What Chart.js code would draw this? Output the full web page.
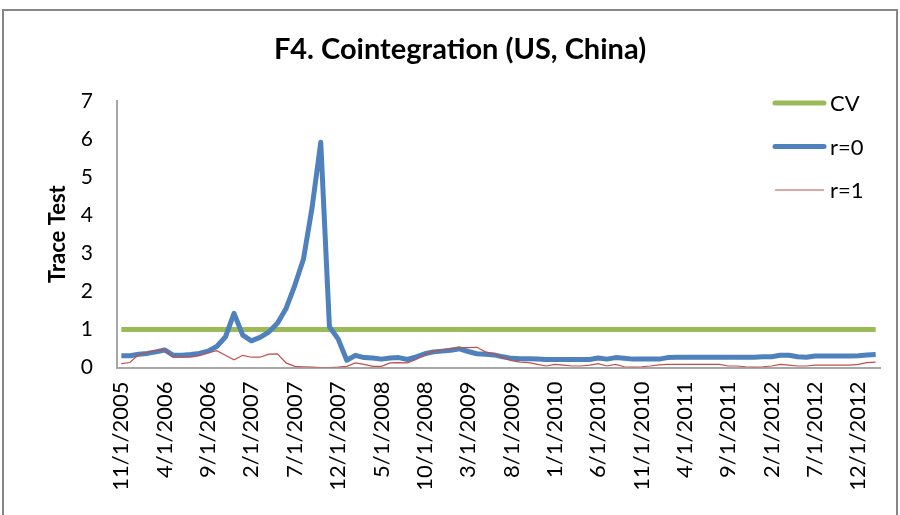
<!DOCTYPE html>
<html>
<head>
<meta charset="utf-8">
<script src="https://cdn.jsdelivr.net/npm/chart.js@4.4.1/dist/chart.umd.min.js"></script>
<style>
    body { margin: 0; background: #ffffff; }
    #chart_box { width: 900px; height: 515px; position: relative; }
</style>
</head>
<body>
<div id="chart_box"><canvas id="cointegration_chart"></canvas></div>
<script>
// monthly categories, 11/1/2005 .. 2/1/2013
const start_month = 11;
const start_year = 2005;
const month_count = 88;
const month_labels = [];
for (let i = 0; i < month_count; i++) {
    const m = (start_month - 1 + i) % 12 + 1;
    const y = start_year + Math.floor((start_month - 1 + i) / 12);
    month_labels.push(m + '/1/' + y);
}

const cv_level = 1;
const cv_values = new Array(month_count).fill(cv_level);

const r0_values = [
    0.31, 0.31, 0.35, 0.37, 0.41, 0.46, 0.32, 0.32, 0.34, 0.37,
    0.43, 0.55, 0.80, 1.42, 0.85, 0.70, 0.79, 0.93, 1.16, 1.55,
    2.15, 2.84, 4.20, 5.91, 1.07, 0.75, 0.19, 0.32, 0.26, 0.25,
    0.22, 0.25, 0.26, 0.21, 0.28, 0.36, 0.41, 0.43, 0.45, 0.49,
    0.42, 0.36, 0.35, 0.33, 0.28, 0.24, 0.23, 0.23, 0.22, 0.21,
    0.21, 0.21, 0.21, 0.21, 0.21, 0.25, 0.22, 0.26, 0.24, 0.22,
    0.22, 0.22, 0.22, 0.26, 0.27, 0.27, 0.27, 0.27, 0.27, 0.27,
    0.27, 0.27, 0.27, 0.27, 0.28, 0.28, 0.32, 0.32, 0.28, 0.27,
    0.30, 0.30, 0.30, 0.30, 0.30, 0.31, 0.33, 0.34
];

const r1_values = [
    0.10, 0.13, 0.34, 0.40, 0.45, 0.46, 0.27, 0.27, 0.27, 0.31,
    0.38, 0.44, 0.32, 0.20, 0.32, 0.27, 0.27, 0.35, 0.36, 0.12,
    0.03, 0.02, 0.01, 0.00, 0.00, 0.01, 0.03, 0.12, 0.08, 0.03,
    0.03, 0.12, 0.13, 0.12, 0.21, 0.34, 0.43, 0.46, 0.50, 0.52,
    0.52, 0.53, 0.41, 0.36, 0.26, 0.18, 0.14, 0.13, 0.08, 0.04,
    0.08, 0.06, 0.04, 0.04, 0.06, 0.10, 0.04, 0.08, 0.02, 0.01,
    0.02, 0.04, 0.07, 0.08, 0.08, 0.08, 0.08, 0.08, 0.08, 0.08,
    0.04, 0.04, 0.02, 0.01, 0.02, 0.04, 0.08, 0.06, 0.04, 0.04,
    0.06, 0.06, 0.06, 0.06, 0.06, 0.08, 0.13, 0.14
];

const y_ticks = [0, 1, 2, 3, 4, 5, 6, 7];

const green = '#9bbb59';
const blue = '#4f81bd';
const red = '#c0504d';
const axis_gray = '#a6a6a6';

Chart.defaults.font.family = 'Lato, "Open Sans", sans-serif';
Chart.defaults.color = '#000000';

// frame round the whole chart, like the spreadsheet chart box
const chart_frame = {
    id: 'chart_frame',
    beforeDraw(chart) {
        const ctx = chart.ctx;
        ctx.save();
        ctx.fillStyle = '#ffffff';
        ctx.fillRect(0, 0, chart.width, chart.height);
        ctx.strokeStyle = '#868686';
        ctx.lineWidth = 2;
        ctx.strokeRect(3, 10, chart.width - 6, chart.height + 20);
        ctx.restore();
    }
};

// legend drawn inside the plot, top right, one item per row
const side_legend = {
    id: 'side_legend',
    afterDatasetsDraw(chart) {
        const ctx = chart.ctx;
        chart.data.datasets.forEach(function (ds, i) {
            const y = 103 + i * 43.5;
            ctx.save();
            ctx.strokeStyle = ds.borderColor;
            ctx.lineWidth = ds.borderWidth;
            ctx.lineCap = ds.borderWidth > 2 ? 'round' : 'butt';
            ctx.beginPath();
            ctx.moveTo(775, y);
            ctx.lineTo(824, y);
            ctx.stroke();
            ctx.fillStyle = '#000000';
            ctx.font = '22px Lato';
            ctx.textBaseline = 'middle';
            ctx.fillText(ds.label, 830, y + 1);
            ctx.restore();
        });
    }
};

const cointegration_chart = document.getElementById('cointegration_chart');

new Chart(cointegration_chart, {
    type: 'line',
    data: {
        labels: month_labels,
        datasets: [{
            label: 'CV',
            data: cv_values,
            borderColor: green,
            borderWidth: 5,
            pointRadius: 0,
            tension: 0,
            order: 2
        }, {
            label: 'r=0',
            data: r0_values,
            borderColor: blue,
            borderWidth: 5,
            borderJoinStyle: 'round',
            pointRadius: 0,
            tension: 0,
            order: 1
        }, {
            label: 'r=1',
            data: r1_values,
            borderColor: red,
            borderWidth: 1.2,
            pointRadius: 0,
            tension: 0,
            order: 0
        }]
    },
    options: {
        responsive: true,
        maintainAspectRatio: false,
        animation: false,
        layout: {
            padding: { left: 40, right: 20, top: 0, bottom: 0 }
        },
        plugins: {
            legend: false,
            tooltip: { enabled: false },
            title: {
                display: true,
                text: 'F4. Cointegration (US, China)',
                font: { size: 29, weight: 'bold' },
                color: '#000000',
                padding: { top: 32, bottom: 34 }
            }
        },
        scales: {
            x: {
                type: 'category',
                offset: true,
                grid: { display: false, drawTicks: false },
                border: { display: true, color: axis_gray, width: 2 },
                ticks: {
                    autoSkip: false,
                    minRotation: 90,
                    maxRotation: 90,
                    padding: 14,
                    font: { size: 22 },
                    callback: function (value, index) {
                        return index % 5 === 0 ? month_labels[index] : null;
                    }
                },
                afterFit: function (scale) { scale.height = 147.5; }
            },
            y: {
                min: 0,
                max: 7,
                grid: { display: false, drawTicks: false },
                border: { display: true, color: axis_gray, width: 2 },
                afterBuildTicks: function (scale) {
                    scale.ticks = y_ticks.map(function (v) { return { value: v }; });
                },
                ticks: {
                    padding: 24,
                    font: { size: 21 }
                },
                title: {
                    display: true,
                    text: 'Trace Test',
                    font: { size: 22, weight: 'bold' },
                    padding: { top: 5, bottom: 0 }
                },
                afterFit: function (scale) { scale.width = 77; }
            }
        }
    },
    plugins: [chart_frame, side_legend]
});
</script>
</body>
</html>
